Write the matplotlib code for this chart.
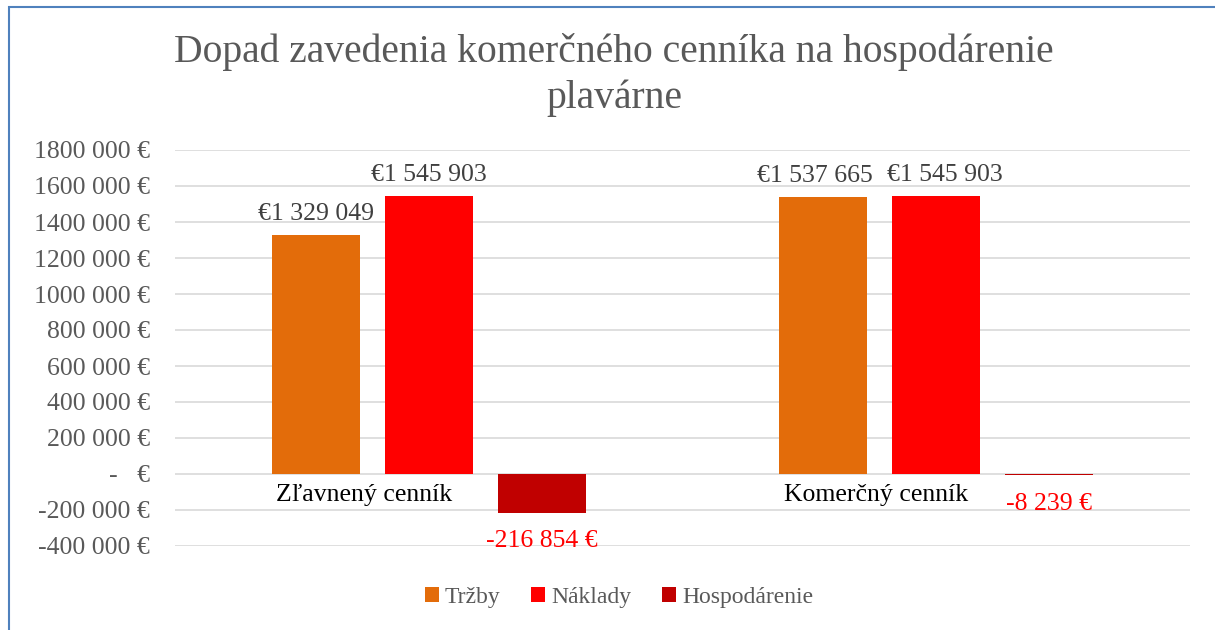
import numpy as np
import matplotlib.pyplot as plt
from matplotlib.patches import Rectangle
from matplotlib.ticker import FuncFormatter

categories = ['Zľavnený cenník', 'Komerčný cenník']
series = ['Tržby', 'Náklady', 'Hospodárenie']
trzby = [1329049, 1537665]
naklady = [1545903, 1545903]
hospodarenie = [-216854, -8239]
colors = ['#E36C0A', '#FF0000', '#C00000']


def money(v):
    if v < 0:
        return '-' + f'{-v:,}'.replace(',', ' ') + ' €'
    return '€' + f'{v:,}'.replace(',', ' ')


def tick_fmt(v, pos):
    if v == 0:
        return '-   €'
    s = f'{abs(int(v)):,}'.replace(',', ' ')
    # Excel shows 1800 000 without the thousands gap for millions
    if abs(v) >= 1000000:
        s = s.replace(' ', '', 1)
    return ('-' if v < 0 else '') + s + ' €'


def main():
    plt.rcParams['font.family'] = ['Liberation Serif', 'DejaVu Serif']
    fig = plt.figure(figsize=(12.15, 6.3), dpi=100)
    ax = fig.add_axes([175 / 1215, 1 - 546 / 630, 1015 / 1215, 396 / 630])

    x = np.arange(len(categories))
    step = 0.2227
    width = 0.173
    data = [trzby, naklady, hospodarenie]
    for i, (name, vals) in enumerate(zip(series, data)):
        pos = x + (i - 1) * step
        ax.bar(pos, vals, width, color=colors[i], label=name, zorder=3)
        for j, (xp, v) in enumerate(zip(pos, vals)):
            if v >= 0:
                # Excel pushes the two labels apart when they would collide
                dx = 0
                if i < 2 and abs(trzby[j] - naklady[j]) < 60000:
                    dx = -6 if i == 0 else 6
                ax.annotate(money(v), (xp, v), xytext=(dx, 7), textcoords='offset points',
                            ha='center', va='bottom', fontsize=18.5, color='#404040')
            else:
                ax.annotate(money(v), (xp, v), xytext=(0, -12.5), textcoords='offset points',
                            ha='center', va='top', fontsize=18.5, color='#FF0000')

    for xc, name in zip(x, categories):
        ax.text(xc - 0.30, -115000, name, ha='left', va='center', fontsize=18.5, color='black')

    ax.set_xlim(-0.5, 1.5)
    ax.set_ylim(-400000, 1800000)
    ax.set_yticks(np.arange(-400000, 1800001, 200000))
    ax.yaxis.set_major_formatter(FuncFormatter(tick_fmt))
    ax.set_xticks([])
    ax.tick_params(axis='y', length=0, pad=18, labelsize=18.5, labelcolor='#595959')
    ax.grid(axis='y', color='#D9D9D9', lw=1.2, zorder=0)
    for s in ax.spines.values():
        s.set_visible(False)

    fig.text(614 / 1215, 1 - 52 / 630, 'Dopad zavedenia komerčného cenníka na hospodárenie',
             ha='center', va='center', fontsize=28.5, color='#595959')
    fig.text(614 / 1215, 1 - 98 / 630, 'plavárne', ha='center', va='center', fontsize=28.5,
             color='#595959')

    fig.legend(loc='center', bbox_to_anchor=(619 / 1215, 1 - 597 / 630), ncol=3, frameon=False,
               fontsize=17, labelcolor='#595959', handlelength=0.6, handleheight=0.6,
               handletextpad=0.25, columnspacing=1.3)

    fig.add_artist(Rectangle((9 / 1215, -0.01), 1.2, 1 - 7 / 630 + 0.01, transform=fig.transFigure,
                             fill=False, edgecolor='#4F81BD', lw=1.5))

    fig.savefig('out.png', dpi=100)


if __name__ == '__main__':
    main()
